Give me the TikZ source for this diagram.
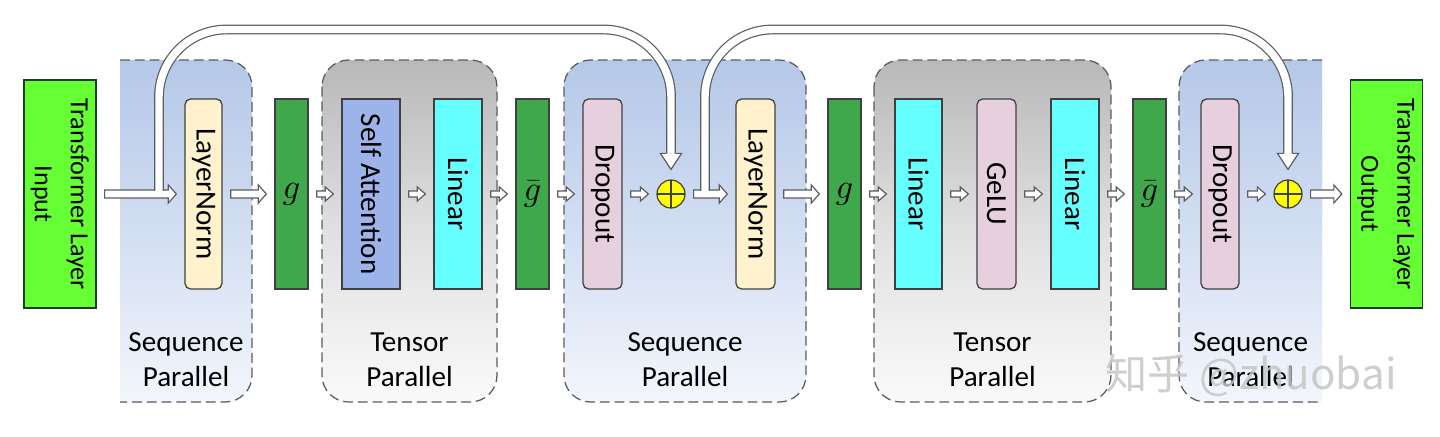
\documentclass[tikz,border=0pt]{standalone}
\usepackage{fontspec}
\usepackage{graphicx}
\setmainfont{Carlito}
\newfontfamily\cjkfont{Noto Sans CJK SC}
\usetikzlibrary{calc}

\definecolor{ioGreen}{RGB}{102,255,51}
\definecolor{gGreen}{RGB}{64,168,76}
\definecolor{normCream}{RGB}{255,242,204}
\definecolor{dropPink}{RGB}{230,208,222}
\definecolor{attnBlue}{RGB}{157,180,235}
\definecolor{linCyan}{RGB}{102,255,255}
\definecolor{addYellow}{RGB}{255,255,0}
\definecolor{edgeGray}{RGB}{64,64,64}
\definecolor{dashGray}{RGB}{90,92,100}
\definecolor{seqTop}{RGB}{181,200,232}
\definecolor{seqMid}{RGB}{210,222,242}
\definecolor{seqBot}{RGB}{243,246,252}
\definecolor{tpTop}{RGB}{184,184,184}
\definecolor{tpMid}{RGB}{224,224,224}
\definecolor{tpBot}{RGB}{250,250,250}

\tikzset{
  txt/.style={font=\fontsize{20.7}{25}\selectfont},
  block/.style={draw=edgeGray, line width=0.9pt, minimum height=4.75cm, inner sep=0pt, txt},
  softblock/.style={block, rounded corners=4pt},
  gblock/.style={block, fill=gGreen, minimum width=0.825cm, font=\fontsize{30}{32}\selectfont},
  ioblock/.style={block, draw=edgeGray!80!green!60!black, fill=ioGreen, minimum width=1.65cm, minimum height=5.7cm, font=\fontsize{18.6}{25.6}\selectfont},
  addnode/.style={circle, draw=edgeGray, line width=0.85pt, fill=addYellow, minimum size=0.7cm, inner sep=0pt,
    path picture={\draw[edgeGray, line width=0.85pt]
      (path picture bounding box.north) -- (path picture bounding box.south)
      (path picture bounding box.west) -- (path picture bounding box.east);}},
  groupline/.style={draw=dashGray, line width=0.9pt, dash pattern=on 7pt off 3.5pt, rounded corners=19pt},
  seqshade/.style={top color=seqTop, bottom color=seqBot, middle color=seqMid},
  tpshade/.style={top color=tpTop, bottom color=tpBot, middle color=tpMid},
  grouplabel/.style={txt, align=center, inner sep=0pt},
  flowline/.style={draw=dashGray, line width=0.85pt, fill=white},
  skipline/.style={draw=dashGray, line width=0.85pt, double=white, double distance=5.3pt, rounded corners=48pt},
  watermark/.style={font=\cjkfont\fontsize{30}{30}\selectfont, text=gray!45, text opacity=0.85, inner sep=0pt},
}

% hollow block arrow between two nodes: #3 shaft half width, #4 head half width
\newcommand{\flowarrow}[4]{%
  \draw[flowline] let \p1=(#1.east), \p2=(#2.west) in
    (\x1+5.7pt,\y1+#3) -- (\x2-11.4pt,\y1+#3) -- (\x2-11.4pt,\y1+#4)
    -- (\x2-5.7pt,\y1) -- (\x2-11.4pt,\y1-#4) -- (\x2-11.4pt,\y1-#3)
    -- (\x1+5.7pt,\y1-#3) -- cycle;}
\newcommand{\wideflow}[2]{\flowarrow{#1}{#2}{2.85pt}{6.4pt}}
\newcommand{\thinflow}[2]{\flowarrow{#1}{#2}{2.1pt}{5pt}}
% arrow head of a residual line, on top of a sum node
\newcommand{\skiphead}[1]{%
  \draw[flowline] let \p1=(#1.north) in
    (\x1-3.07pt,\y1+18.5pt) -- (\x1-7.5pt,\y1+18.5pt) -- (\x1,\y1+7.1pt)
    -- (\x1+7.5pt,\y1+18.5pt) -- (\x1+3.07pt,\y1+18.5pt);}

\begin{document}
\begin{tikzpicture}[x=0.025cm, y=-0.025cm]
        \useasboundingbox (0,0) rectangle (1440,436);
        \fill[white] (0,0) rectangle (1440,436);

        % groups
        \shade[seqshade, rounded corners=19pt] (120,60) rectangle (252,402);
        \shade[seqshade] (120,60) rectangle (200,402);
        \draw[groupline] (120,60) -- (252,60) -- (252,402) -- (120,402);

        \draw[groupline, tpshade] (322,60) rectangle (497,402);
        \draw[groupline, seqshade] (564,60) rectangle (806,402);
        \draw[groupline, tpshade] (874,60) rectangle (1111,402);

        \shade[seqshade, rounded corners=19pt] (1179,60) rectangle (1322,402);
        \shade[seqshade] (1250,60) rectangle (1322,402);
        \draw[groupline] (1322,60) -- (1179,60) -- (1179,402) -- (1322,402);

        \node[grouplabel] (seqlab1) at (186,360) {Sequence\\Parallel};
        \node[grouplabel] (tplab1) at (409.5,360) {Tensor\\Parallel};
        \node[grouplabel] (seqlab2) at (685,360) {Sequence\\Parallel};
        \node[grouplabel] (tplab2) at (992.5,360) {Tensor\\Parallel};
        \node[grouplabel] (seqlab3) at (1250.5,360) {Sequence\\Parallel};

        % blocks
        \node[ioblock] (inp) at (60,194) {\rotatebox{-90}{\begin{tabular}{@{}c@{}}Transformer Layer\\Input\end{tabular}}};
        \node[softblock, fill=normCream, minimum width=0.925cm] (ln1) at (203.5,194) {\rotatebox{-90}{LayerNorm}};
        \node[gblock] (g1) at (291.5,194) {$g$};
        \node[block, fill=attnBlue, minimum width=1.45cm] (sa) at (371,194) {\rotatebox{-90}{Self Attention}};
        \node[block, fill=linCyan, minimum width=1.2cm] (lin1) at (458,194) {\rotatebox{-90}{Linear}};
        \node[gblock] (gb1) at (532.5,194) {$\bar{g}$};
        \node[softblock, fill=dropPink, minimum width=0.975cm] (drop1) at (602.5,194) {\rotatebox{-90}{Dropout}};
        \node[addnode] (add1) at (671,194) {};
        \node[softblock, fill=normCream, minimum width=0.975cm] (ln2) at (755.5,194) {\rotatebox{-90}{LayerNorm}};
        \node[gblock] (g2) at (844.5,194) {$g$};
        \node[block, fill=linCyan, minimum width=1.175cm] (lin2) at (918.5,194) {\rotatebox{-90}{Linear}};
        \node[softblock, fill=dropPink, minimum width=0.975cm] (gelu) at (996.5,194) {\rotatebox{-90}{GeLU}};
        \node[block, fill=linCyan, minimum width=1.2cm] (lin3) at (1075,194) {\rotatebox{-90}{Linear}};
        \node[gblock] (gb2) at (1149.5,194) {$\bar{g}$};
        \node[softblock, fill=dropPink, minimum width=0.95cm] (drop2) at (1220,194) {\rotatebox{-90}{Dropout}};
        \node[addnode] (add2) at (1288,194) {};
        \node[ioblock] (outp) at (1386.5,194) {\rotatebox{-90}{\begin{tabular}{@{}c@{}}Transformer Layer\\Output\end{tabular}}};

        % flow
        \wideflow{inp}{ln1}
        \wideflow{ln1}{g1}
        \thinflow{g1}{sa}
        \thinflow{sa}{lin1}
        \thinflow{lin1}{gb1}
        \thinflow{gb1}{drop1}
        \thinflow{drop1}{add1}
        \wideflow{add1}{ln2}
        \wideflow{ln2}{g2}
        \thinflow{g2}{lin2}
        \thinflow{lin2}{gelu}
        \thinflow{gelu}{lin3}
        \thinflow{lin3}{gb2}
        \thinflow{gb2}{drop2}
        \thinflow{drop2}{add2}
        \wideflow{add2}{outp}

        % residual lines
        \coordinate (skiptop) at (0,29.5);
        \coordinate (skipa) at (159,190.8);
        \coordinate (skipb) at (705,190.8);
        \draw[skipline] (skipa) |- (add1 |- skiptop) -- ([yshift=18.5pt]add1.north);
        \skiphead{add1}
        \draw[skipline] (skipb) |- (add2 |- skiptop) -- ([yshift=18.5pt]add2.north);
        \skiphead{add2}

        \node[watermark] (wm) at (1251,375) {知乎 @zhuobai};
\end{tikzpicture}
\end{document}
